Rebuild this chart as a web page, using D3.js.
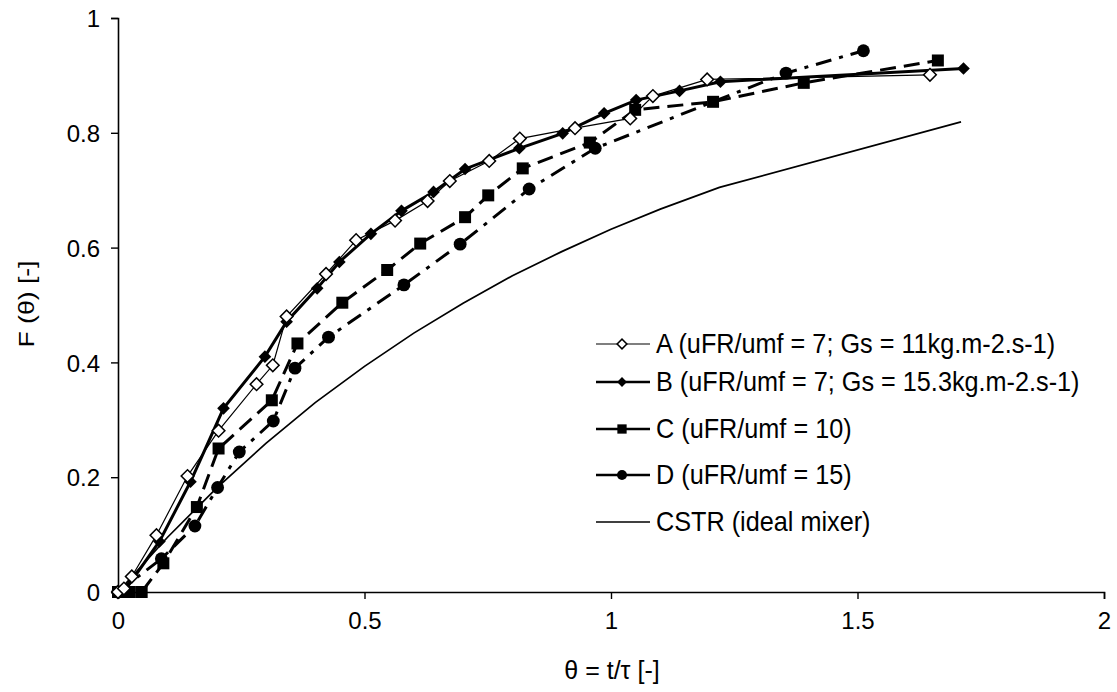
<!DOCTYPE html>
<html>
<head>
<meta charset="utf-8">
<script src="https://cdn.jsdelivr.net/npm/d3@7"></script>
<style>
  html, body { margin: 0; padding: 0; background: #fff; }
  svg text { font-family: "Liberation Sans", Arial, sans-serif; fill: #000; }
</style>
</head>
<body>
<svg id="chart" width="1117" height="692"></svg>
<script>
// Dimensionless time theta and cumulative response F(theta) for each run
const thetaA = [0, 0.012, 0.028, 0.078, 0.141, 0.204, 0.281, 0.314, 0.342, 0.422, 0.483, 0.562, 0.628, 0.673, 0.753, 0.815, 0.927, 1.039, 1.085, 1.195, 1.647];
const fA     = [0, 0.006, 0.027, 0.099, 0.202, 0.281, 0.362, 0.395, 0.480, 0.554, 0.613, 0.647, 0.681, 0.716, 0.751, 0.790, 0.808, 0.825, 0.864, 0.893, 0.901];

const thetaB = [0, 0.015, 0.084, 0.147, 0.214, 0.298, 0.342, 0.404, 0.449, 0.513, 0.575, 0.640, 0.704, 0.814, 0.902, 0.986, 1.051, 1.139, 1.222, 1.715];
const fB     = [0, 0.004, 0.088, 0.192, 0.320, 0.410, 0.471, 0.529, 0.575, 0.624, 0.664, 0.697, 0.737, 0.773, 0.799, 0.834, 0.857, 0.873, 0.889, 0.912];

const thetaC = [0, 0.024, 0.048, 0.092, 0.160, 0.204, 0.312, 0.364, 0.455, 0.546, 0.613, 0.704, 0.751, 0.821, 0.957, 1.049, 1.207, 1.391, 1.663];
const fC     = [0, 0, 0, 0.050, 0.148, 0.250, 0.334, 0.433, 0.504, 0.561, 0.607, 0.653, 0.691, 0.738, 0.783, 0.840, 0.854, 0.887, 0.926];

const thetaD = [0, 0.088, 0.156, 0.202, 0.246, 0.315, 0.359, 0.427, 0.580, 0.694, 0.834, 0.968, 1.355, 1.512];
const fD     = [0, 0.058, 0.115, 0.182, 0.244, 0.298, 0.390, 0.444, 0.535, 0.606, 0.702, 0.773, 0.904, 0.943];

// Ideal CSTR response
const thetaCSTR = [0, 0.1, 0.2, 0.3, 0.4, 0.5, 0.6, 0.7, 0.8, 0.9, 1.0, 1.1, 1.22, 1.71];
const fCSTR     = [0, 0.095, 0.181, 0.259, 0.330, 0.393, 0.451, 0.503, 0.551, 0.593, 0.632, 0.667, 0.705, 0.819];

const xTicks = [0, 0.5, 1, 1.5, 2];
const yTicks = [0, 0.2, 0.4, 0.6, 0.8, 1];

const legendLabels = [
  "A (uFR/umf = 7; Gs = 11kg.m-2.s-1)",
  "B (uFR/umf = 7; Gs = 15.3kg.m-2.s-1)",
  "C (uFR/umf = 10)",
  "D (uFR/umf = 15)",
  "CSTR (ideal mixer)"
];

const svg = d3.select("#chart");
const plotLeft = 118, plotRight = 1104, plotTop = 18, plotBottom = 592;

const x = d3.scaleLinear().domain([0, 2]).range([plotLeft, plotRight]);
const y = d3.scaleLinear().domain([0, 1]).range([plotBottom, plotTop]);

// Axes
const xAxis = d3.axisBottom(x).tickValues(xTicks).tickSize(7).tickPadding(13)
  .tickFormat(d => d3.format("")(d));
const yAxis = d3.axisLeft(y).tickValues(yTicks).tickSize(7).tickPadding(11)
  .tickFormat(d => d3.format("")(d));

const gx = svg.append("g").attr("transform", `translate(0,${plotBottom})`).call(xAxis);
const gy = svg.append("g").attr("transform", `translate(${plotLeft},0)`).call(yAxis);
[gx, gy].forEach(g => {
  g.select(".domain").attr("stroke", "#000").attr("stroke-width", 1.6);
  g.selectAll(".tick line").attr("stroke", "#000").attr("stroke-width", 1.4);
  g.selectAll(".tick text").attr("font-size", 24).attr("fill", "#000")
    .attr("font-family", "'Liberation Sans', Arial, sans-serif");
});
gy.selectAll(".tick text").attr("dy", "0.36em");

// Axis titles
svg.append("text")
  .attr("transform", "translate(34,304) rotate(-90)")
  .attr("text-anchor", "middle")
  .attr("font-size", 22)
  .attr("textLength", 87)
  .attr("lengthAdjust", "spacingAndGlyphs")
  .text("F (\u03B8) [-]");
svg.append("text")
  .attr("x", 612).attr("y", 679)
  .attr("text-anchor", "middle")
  .attr("font-size", 25)
  .text("\u03B8 = t/\u03C4 [-]");

const zip = (xs, ys) => xs.map((v, i) => [v, ys[i]]);
const line = d3.line().x(d => x(d[0])).y(d => y(d[1]));

const series = [
  { name: "A", data: zip(thetaA, fA), width: 1.2, dash: null, marker: "diamondOpen" },
  { name: "B", data: zip(thetaB, fB), width: 3, dash: null, marker: "diamond" },
  { name: "C", data: zip(thetaC, fC), width: 3, dash: "16,8", marker: "square" },
  { name: "D", data: zip(thetaD, fD), width: 3, dash: "16,8,4,8", marker: "circle" },
  { name: "CSTR", data: zip(thetaCSTR, fCSTR), width: 1.7, dash: null, marker: null }
];

function markerPath(type, scale) {
  if (type === "diamondOpen" || type === "diamond") {
    return d3.symbol(d3.symbolSquare, 80 * scale)();
  }
  if (type === "square") return d3.symbol(d3.symbolSquare, 144 * scale)();
  if (type === "circle") return d3.symbol(d3.symbolCircle, 130 * scale)();
  return null;
}

function drawMarker(g, type, cx, cy, scale) {
  const p = g.append("path")
    .attr("d", markerPath(type, scale))
    .attr("transform", `translate(${cx},${cy})` + (type.startsWith("diamond") ? " rotate(45)" : ""));
  if (type === "diamondOpen") {
    p.attr("fill", "#fff").attr("stroke", "#000").attr("stroke-width", 1.5);
  } else {
    p.attr("fill", "#000").attr("stroke", "none");
  }
}

// Lines, CSTR first so data series sit above it
[series[4], series[3], series[2], series[1], series[0]].forEach(s => {
  svg.append("path")
    .datum(s.data)
    .attr("d", line)
    .attr("fill", "none")
    .attr("stroke", "#000")
    .attr("stroke-width", s.width)
    .attr("stroke-dasharray", s.dash);
});

// Markers
[series[3], series[2], series[1], series[0]].forEach(s => {
  const g = svg.append("g");
  s.data.forEach(d => drawMarker(g, s.marker, x(d[0]), y(d[1]), 1));
});

// Legend: entries sit in a narrow face, so each label is squeezed horizontally
const legendY = [344, 382, 429, 475, 522];
const legendTextX = 656, legendFont = 27, legendSqueeze = 0.935;
const lg = svg.append("g");
series.forEach((s, i) => {
  const ly = legendY[i];
  lg.append("line")
    .attr("x1", 596).attr("x2", 650)
    .attr("y1", ly).attr("y2", ly)
    .attr("stroke", "#000")
    .attr("stroke-width", s.width === 3 ? 2.6 : s.width);
  if (s.marker) drawMarker(lg, s.marker, 622, ly, 0.6);
  lg.append("text")
    .attr("transform", `translate(${legendTextX},${ly + 9}) scale(${legendSqueeze},1)`)
    .attr("font-size", legendFont)
    .text(legendLabels[i]);
});
</script>
</body>
</html>
